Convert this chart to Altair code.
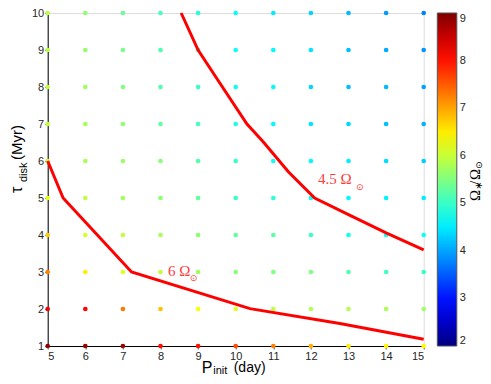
import altair as alt
import pandas as pd

# ---- data ----
P_init = [5, 6, 7, 8, 9, 10, 11, 12, 13, 14, 15]
tau_disk = [1, 2, 3, 4, 5, 6, 7, 8, 9, 10]
# Omega*/Omega_sun, one list per tau_disk row (P_init = 5..15)
omega_rows = [
    [8.9, 8.85, 8.8, 8.05, 8.0, 7.6, 7.25, 6.9, 6.5, 6.45, 6.4],
    [8.2, 8.1, 7.3, 6.8, 6.35, 6.1, 5.9, 5.85, 5.85, 5.8, 5.7],
    [7.25, 6.5, 6.15, 5.95, 5.7, 5.55, 5.5, 5.5, 5.2, 5.1, 5.0],
    [6.75, 6.1, 5.95, 5.8, 5.6, 5.3, 5.25, 5.0, 4.75, 4.7, 4.7],
    [6.2, 5.95, 5.75, 5.6, 5.3, 5.0, 4.9, 4.7, 4.6, 4.55, 4.5],
    [6.0, 5.8, 5.7, 5.55, 5.2, 5.0, 4.7, 4.6, 4.5, 4.4, 4.3],
    [5.95, 5.75, 5.6, 5.3, 5.1, 4.8, 4.6, 4.45, 4.35, 4.2, 4.1],
    [5.95, 5.7, 5.5, 5.2, 5.0, 4.7, 4.6, 4.35, 4.2, 4.15, 4.0],
    [5.9, 5.65, 5.45, 5.15, 4.95, 4.7, 4.6, 4.45, 4.2, 4.05, 3.9],
    [5.9, 5.6, 5.35, 5.1, 4.85, 4.65, 4.5, 4.35, 4.15, 3.95, 3.75],
]
# contour 4.5 Omega_sun
c45_P = [8.55, 9.0, 9.55, 10.3, 10.73, 11.4, 12.1, 13.0, 14.0, 15.0]
c45_tau = [10.0, 9.0, 8.15, 7.0, 6.52, 5.71, 5.0, 4.55, 4.06, 3.6]
# contour 6 Omega_sun
c6_P = [5.0, 5.41, 7.23, 10.38, 12.77, 15.0]
c6_tau = [6.0, 5.0, 3.0, 2.01, 1.61, 1.18]

colorbar_ticks = [2, 3, 4, 5, 6, 7, 8, 9]

# ---- tables ----
rows = []
for i, t in enumerate(tau_disk):
    for j, p in enumerate(P_init):
        rows.append({"P": p, "tau": t, "omega": omega_rows[i][j]})
grid = pd.DataFrame(rows)
df45 = pd.DataFrame({"P": c45_P, "tau": c45_tau, "k": range(len(c45_P))})
df6 = pd.DataFrame({"P": c6_P, "tau": c6_tau, "k": range(len(c6_P))})

FONT = "Liberation Sans"
SERIF = "Liberation Serif"
W, H = 376, 333

xscale = alt.Scale(domain=[5, 15], nice=False, zero=False)
yscale = alt.Scale(domain=[1, 10], nice=False, zero=False)
xaxis = alt.Axis(title=None, values=P_init, grid=False, labelFont=FONT, labelFontSize=11,
                 labelColor="#262626", tickSize=3, domainColor="#000000", tickColor="#555555",
                 labelOverlap=False, labelPadding=1)
yaxis = alt.Axis(title=None, values=tau_disk, grid=False, labelFont=FONT, labelFontSize=11,
                 labelColor="#262626", tickSize=3, domainColor="#000000", tickColor="#555555",
                 labelOverlap=False, labelPadding=1)
X = alt.X("P:Q", scale=xscale, axis=xaxis)
Y = alt.Y("tau:Q", scale=yscale, axis=yaxis)

jet = alt.Scale(domain=[2, 2.875, 4.625, 6.375, 8.125, 9],
                range=["#00007f", "#0000ff", "#00ffff", "#ffff00", "#ff0000", "#7f0000"],
                interpolate="rgb")

points = alt.Chart(grid).mark_circle(size=22, opacity=1).encode(
    x=X, y=Y,
    color=alt.Color("omega:Q", scale=jet, legend=alt.Legend(
        orient="none", legendX=389.6, legendY=0, direction="vertical",
        gradientLength=333, gradientThickness=19.5, title=None, values=colorbar_ticks,
        labelFont=FONT, labelFontSize=11, labelColor="#262626", labelOverlap=False,
        labelBaseline="middle", padding=0, gradientStrokeColor="#555555",
        gradientStrokeWidth=1, labelOffset=3)),
)

line45 = alt.Chart(df45).mark_line(color="#ff0000", strokeWidth=3).encode(
    x=X, y=Y, order="k:Q")
line6 = alt.Chart(df6).mark_line(color="#ff0000", strokeWidth=3).encode(
    x=X, y=Y, order="k:Q")

lab_df = pd.DataFrame({"P": [12.19, 8.2], "tau": [5.37, 2.9], "t": ["4.5  Ω", "6 Ω"]})
sub_df = pd.DataFrame({"P": [13.3, 8.88], "tau": [5.3, 2.85], "t": ["⊙", "⊙"]})
labels = alt.Chart(lab_df).mark_text(font=SERIF, fontSize=15, color="#ff3b3b",
                                     align="left", baseline="alphabetic").encode(
    x=X, y=Y, text="t:N")
subs = alt.Chart(sub_df).mark_text(font="DejaVu Sans", fontSize=9, color="#ff3b3b",
                                   align="center", baseline="middle").encode(
    x=X, y=Y, text="t:N")

one = pd.DataFrame({"a": [0]})

def txt(s, x, y, size, align="left", baseline="alphabetic", angle=0, font=FONT, color="#000000"):
    return alt.Chart(one).mark_text(text=s, font=font, fontSize=size, align=align,
                                    baseline=baseline, angle=angle, color=color).encode(
        x=alt.value(x), y=alt.value(y))

titles = [
    txt("P", 154, 360, 16),
    txt("init", 165.5, 361, 11),
    txt("(day)", 186, 359, 14),
    txt("τ", -26, 180, 16, angle=270),
    txt("disk", -21, 169, 11, angle=270),
    txt("(Myr)", -26, 147, 15, angle=270),
    # colour-bar title  Ω*/Ω⊙ (rotated)
    txt("Ω", 432, 188, 15, angle=270, font=SERIF),
    txt("∗", 434, 177, 10, angle=270, font="DejaVu Sans"),
    txt("/", 432, 172, 15, angle=270, font=SERIF),
    txt("Ω", 432, 167, 15, angle=270, font=SERIF),
    txt("⊙", 434, 156, 9, angle=270, font="DejaVu Sans"),
]

chart = alt.layer(points, line45, line6, labels, subs, *titles).properties(
    width=W, height=H,
    autosize=alt.AutoSizeParams(type="none"),
    padding={"left": 39.7, "top": 5, "right": 59.3, "bottom": 30},
).configure_view(stroke="#000000", strokeWidth=1).configure(background="white")

chart.save("out.html", embed_options={"renderer": "svg", "actions": False})
